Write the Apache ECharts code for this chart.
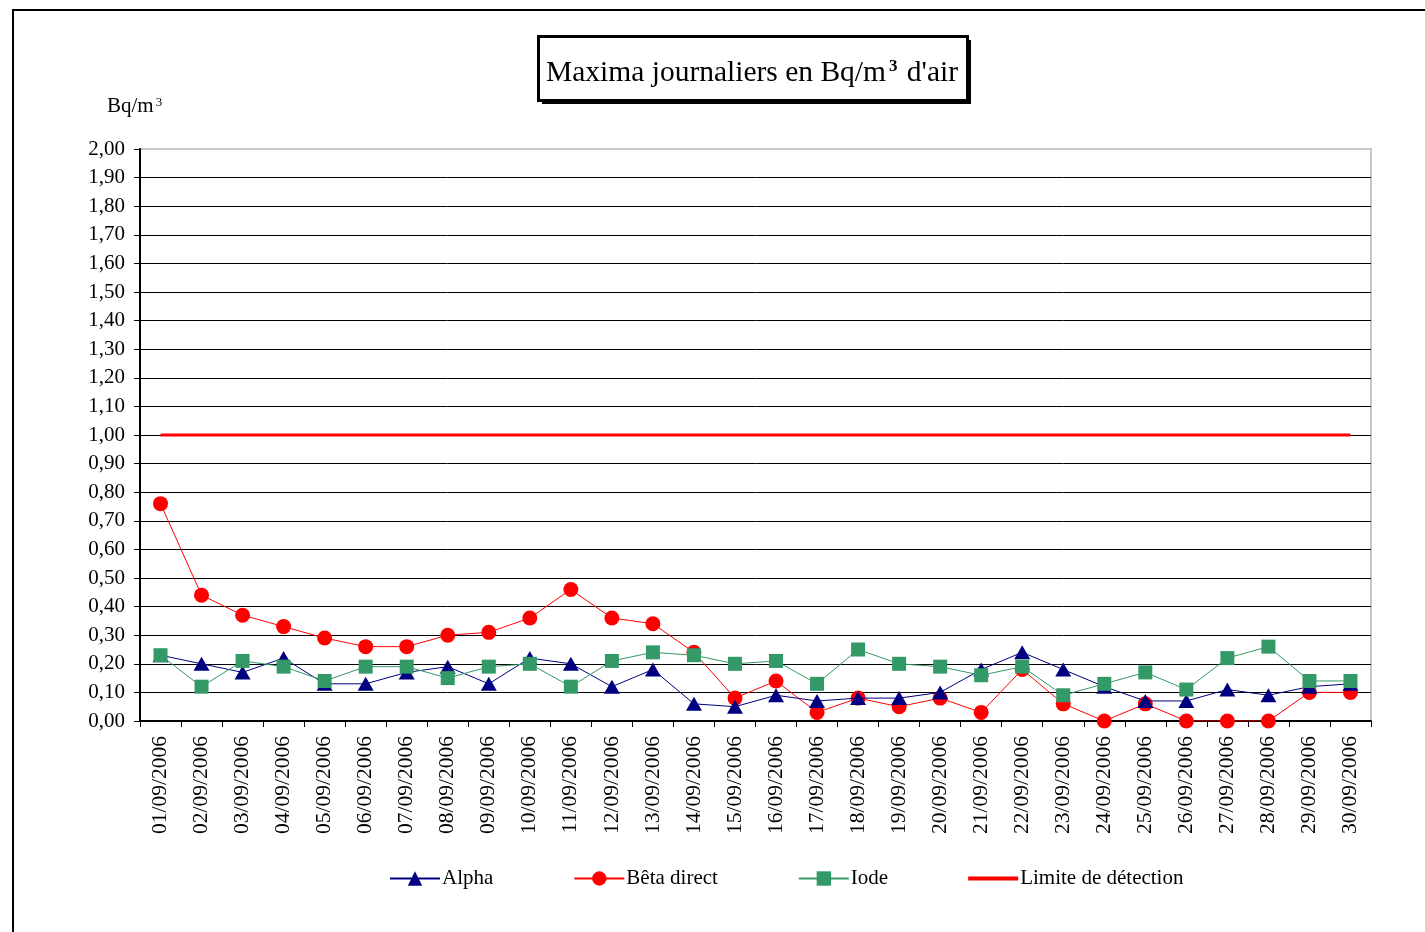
<!DOCTYPE html>
<html>
<head>
    <meta charset="utf-8">
    <title>Maxima journaliers</title>
    <script src="https://cdn.jsdelivr.net/npm/echarts@6/dist/echarts.min.js"></script>
    <style>
        html, body { margin: 0; padding: 0; background: #fff; }
    </style>
</head>
<body>
<div id="main" style="width: 1425px;height:932px;"></div>
<script type="text/javascript">
    // days of september 2006
    var days = ['01/09/2006', '02/09/2006', '03/09/2006', '04/09/2006', '05/09/2006', '06/09/2006',
        '07/09/2006', '08/09/2006', '09/09/2006', '10/09/2006', '11/09/2006', '12/09/2006',
        '13/09/2006', '14/09/2006', '15/09/2006', '16/09/2006', '17/09/2006', '18/09/2006',
        '19/09/2006', '20/09/2006', '21/09/2006', '22/09/2006', '23/09/2006', '24/09/2006',
        '25/09/2006', '26/09/2006', '27/09/2006', '28/09/2006', '29/09/2006', '30/09/2006'];

    var alpha = [0.23, 0.20, 0.17, 0.22, 0.13, 0.13, 0.17, 0.19, 0.13, 0.22,
        0.20, 0.12, 0.18, 0.06, 0.05, 0.09, 0.07, 0.08, 0.08, 0.10,
        0.18, 0.24, 0.18, 0.12, 0.07, 0.07, 0.11, 0.09, 0.12, 0.13];

    var beta = [0.76, 0.44, 0.37, 0.33, 0.29, 0.26, 0.26, 0.30, 0.31, 0.36,
        0.46, 0.36, 0.34, 0.24, 0.08, 0.14, 0.03, 0.08, 0.05, 0.08,
        0.03, 0.18, 0.06, 0.00, 0.06, 0.00, 0.00, 0.00, 0.10, 0.10];

    var iode = [0.23, 0.12, 0.21, 0.19, 0.14, 0.19, 0.19, 0.15, 0.19, 0.20,
        0.12, 0.21, 0.24, 0.23, 0.20, 0.21, 0.13, 0.25, 0.20, 0.19,
        0.16, 0.19, 0.09, 0.13, 0.17, 0.11, 0.22, 0.26, 0.14, 0.14];

    var limite = [1, 1, 1, 1, 1, 1, 1, 1, 1, 1,
        1, 1, 1, 1, 1, 1, 1, 1, 1, 1,
        1, 1, 1, 1, 1, 1, 1, 1, 1, 1];

    var font = 'Liberation Serif';

    // grid line colours: black, last one (2,00) light grey like the plot border
    var splitColors = [];
    for (var i = 0; i < 20; i++) splitColors.push('#000');
    splitColors.push('#c8c8c8');

    var myChart = echarts.init(document.getElementById('main'));
    var option = {
        backgroundColor: '#fff',
        animation: false,
        textStyle: {fontFamily: font, color: '#000'},
        title: {
            text: "{a|Maxima journaliers en Bq/m}{s|3}{a| d'air}",
            left: 546,
            top: 58,
            padding: 0,
            textStyle: {
                rich: {
                    a: {fontFamily: font, fontSize: 29.5, color: '#000', fontWeight: 'normal'},
                    s: {fontFamily: font, fontSize: 17, color: '#000', verticalAlign: 'top', padding: [0, 2, 0, 3]}
                }
            }
        },
        graphic: [
            {
                type: 'polyline',
                shape: {points: [[13, 932], [13, 10], [1425, 10]]},
                style: {stroke: '#000', lineWidth: 2, fill: null}
            },
            // title box with its drop shadow
            {
                type: 'rect',
                shape: {x: 542, y: 40, width: 429, height: 64},
                style: {fill: '#000'}
            },
            {
                type: 'rect',
                shape: {x: 538.5, y: 36.5, width: 429, height: 64},
                style: {fill: '#fff', stroke: '#000', lineWidth: 3}
            },
            {
                type: 'text',
                left: 107,
                top: 96,
                style: {
                    text: '{a|Bq/m}{s|3}',
                    rich: {
                        a: {fontFamily: font, fontSize: 21, fill: '#000'},
                        s: {fontFamily: font, fontSize: 13, fill: '#000', verticalAlign: 'top', padding: [0, 0, 0, 2]}
                    }
                }
            }
        ],
        legend: {
            left: 384,
            top: 863,
            itemWidth: 50,
            itemHeight: 18,
            itemGap: 80,
            textStyle: {fontFamily: font, fontSize: 21, color: '#000', padding: [0, 0, 0, -3]},
            data: [
                'Alpha',
                'Bêta direct',
                'Iode',
                {name: 'Limite de détection', icon: 'path://M0,0 L48,0 L48,4 L0,4 Z'}
            ]
        },
        grid: {
            left: 140,
            right: 54,
            top: 149,
            bottom: 211,
            show: true,
            borderColor: '#c8c8c8',
            borderWidth: 2
        },
        xAxis: {
            type: 'category',
            data: days,
            boundaryGap: true,
            axisLine: {lineStyle: {color: '#000', width: 2}},
            axisTick: {show: true, length: 6, lineStyle: {color: '#000'}},
            axisLabel: {rotate: 90, fontFamily: font, fontSize: 21.5, color: '#000', margin: 15, interval: 0},
            splitLine: {show: false}
        },
        yAxis: {
            type: 'value',
            min: 0,
            max: 2,
            interval: 0.1,
            axisLine: {show: true, lineStyle: {color: '#000', width: 2}},
            axisTick: {show: true, length: 6, lineStyle: {color: '#000'}},
            axisLabel: {
                fontFamily: font, fontSize: 21, color: '#000', margin: 15,
                formatter: function (v) {
                    return v.toFixed(2).replace('.', ',');
                }
            },
            splitLine: {show: true, lineStyle: {color: splitColors, width: 1}}
        },
        series: [
            {
                name: 'Alpha',
                type: 'line',
                data: alpha,
                symbol: 'triangle',
                symbolSize: [16, 14],
                itemStyle: {color: '#000080'},
                lineStyle: {color: '#000080', width: 1},
                z: 4
            },
            {
                name: 'Bêta direct',
                type: 'line',
                data: beta,
                symbol: 'circle',
                symbolSize: 15,
                itemStyle: {color: '#ff0000'},
                lineStyle: {color: '#ff0000', width: 1},
                z: 3
            },
            {
                name: 'Iode',
                type: 'line',
                data: iode,
                symbol: 'rect',
                symbolSize: 14,
                itemStyle: {color: '#339966'},
                lineStyle: {color: '#339966', width: 1},
                z: 5
            },
            {
                name: 'Limite de détection',
                type: 'line',
                data: limite,
                symbol: 'none',
                itemStyle: {color: '#ff0000'},
                lineStyle: {color: '#ff0000', width: 3},
                z: 2
            }
        ]
    };
    myChart.setOption(option);
</script>
</body>
</html>
